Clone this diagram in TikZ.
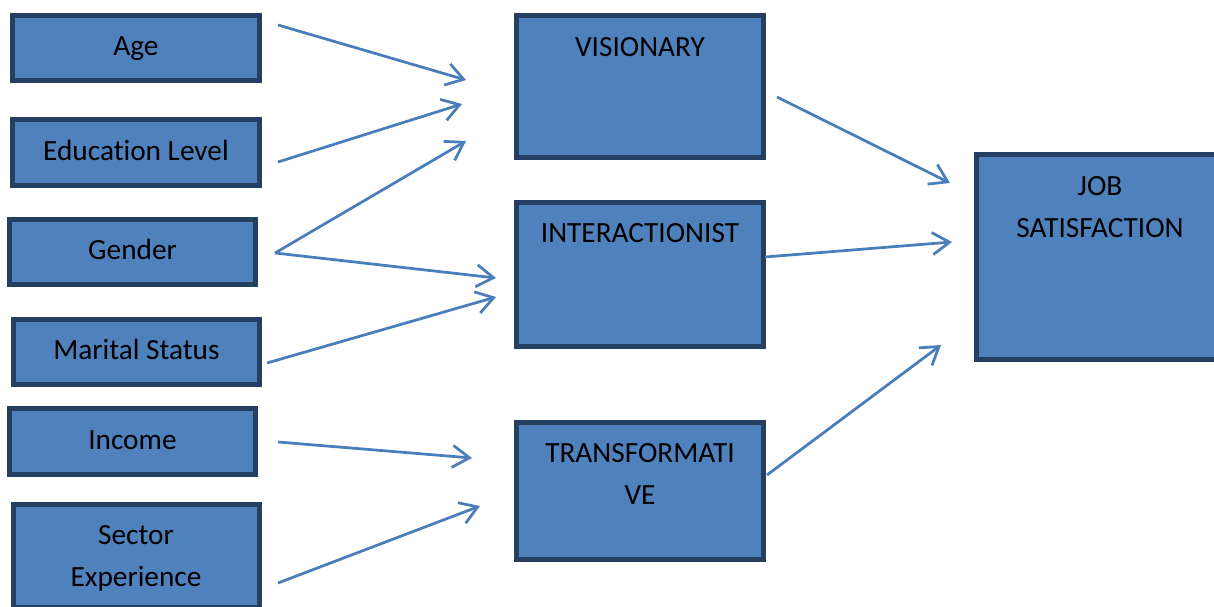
\documentclass[tikz,border=0pt]{standalone}
\usepackage{fontspec}
\setmainfont{Carlito}[Ligatures={NoCommon}]
\usetikzlibrary{arrows.meta}
\definecolor{boxfill}{HTML}{4F81BD}
\definecolor{boxline}{HTML}{243F60}
\definecolor{arrowc}{HTML}{4A7EBB}
\begin{document}
\begin{tikzpicture}[x=1pt,y=-1pt,
  box/.style={draw=boxline, fill=boxfill, line width=5pt, inner sep=0pt, minimum width=247pt},
  onebox/.style={box, font=\fontsize{29.3}{42}\selectfont, text height=20pt, text depth=5pt},
  lbl/.style={font=\fontsize{29.3}{42}\selectfont, align=center, inner sep=0pt, text=black, anchor=north},
  arr/.style={draw=arrowc, line width=2.75pt, -{Straight Barb[length=17pt,width=22pt]}}]
\useasboundingbox (0,0) rectangle (1214,607);
% left column
\node[onebox, minimum height=65pt] (age) at (136,48) {Age};
\node[onebox, minimum height=66pt] (edu) at (136,152.5) {Education Level};
\node[onebox, minimum height=65pt, minimum width=246pt] (gen) at (132.5,252) {Gender};
\node[onebox, minimum height=65pt, minimum width=246pt] (mar) at (136.5,352) {Marital Status};
\node[onebox, minimum height=66pt, minimum width=246pt] (inc) at (132.5,441.5) {Income};
\node[box, minimum height=103pt, minimum width=246pt] (sec) at (136.5,556) {};
\node[lbl] (secT) at (136,525) {Sector\\Experience};
% middle column
\node[box, minimum height=142pt] (vis) at (640,86.5) {};
\node[lbl] (visT) at (640,37) {VISIONARY};
\node[box, minimum height=144pt] (int) at (640,274.5) {};
\node[lbl] (intT) at (640,223) {INTERACTIONIST};
\node[box, minimum height=137pt] (tra) at (640,491) {};
\node[lbl] (traT) at (640,443.3) {TRANSFORMATI\\VE};
% right
\node[box, minimum height=205pt] (job) at (1100,257) {};
\node[lbl] (jobT) at (1100,176.7) {JOB\\SATISFACTION};
% connector ends
\coordinate (s1) at (278,25);   \coordinate (e1) at (466,80);
\coordinate (s2) at (278,162);  \coordinate (e2) at (462,104);
\coordinate (s3) at (275,253);  \coordinate (e3) at (466,141);
\coordinate (e4) at (496,278);
\coordinate (s5) at (267,363);  \coordinate (e5) at (496,297);
\coordinate (s6) at (278,442);  \coordinate (e6) at (472,458);
\coordinate (s7) at (278,583);  \coordinate (e7) at (480,506);
\coordinate (s8) at (777,97);   \coordinate (e8) at (950,183);
\coordinate (s9) at (765,257);  \coordinate (e9) at (952,242);
\coordinate (s10) at (767,475); \coordinate (e10) at (941,345);
\draw[arr] (s1) -- (e1);
\draw[arr] (s2) -- (e2);
\draw[arr] (s3) -- (e3);
\draw[arr] (s3) -- (e4);
\draw[arr] (s5) -- (e5);
\draw[arr] (s6) -- (e6);
\draw[arr] (s7) -- (e7);
\draw[arr] (s8) -- (e8);
\draw[arr] (s9) -- (e9);
\draw[arr] (s10) -- (e10);
\end{tikzpicture}
\end{document}
